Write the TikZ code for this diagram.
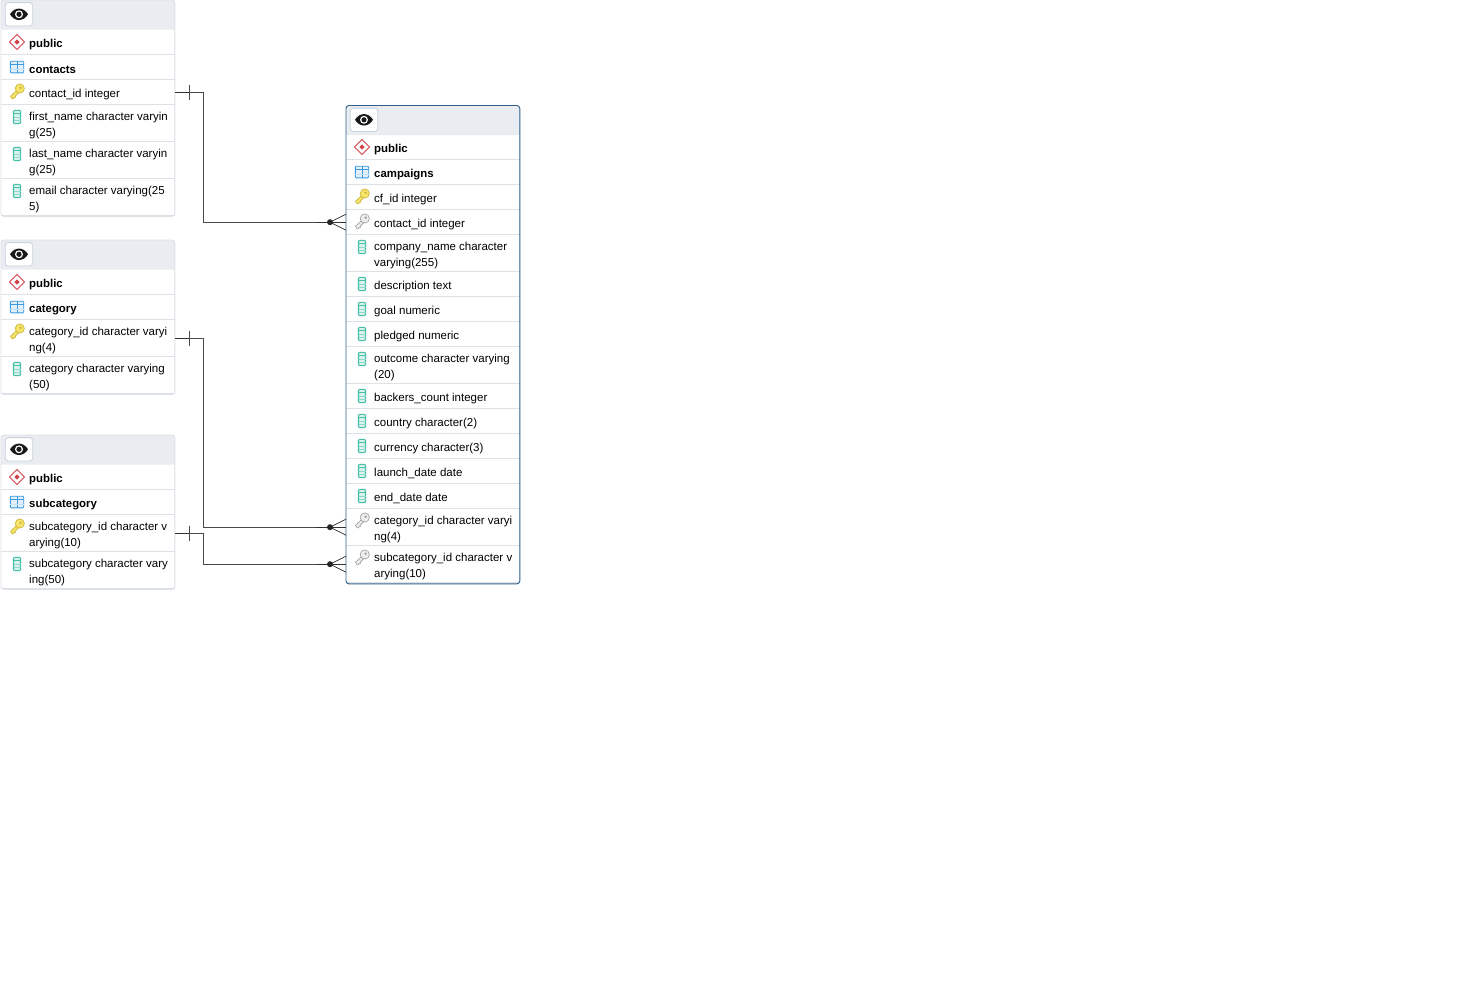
\documentclass[tikz,border=0pt]{standalone}
\usepackage{fontspec}
\setmainfont{Liberation Sans}
\usepackage{tikz}

\definecolor{headgrey}{HTML}{E9EDF2}
\definecolor{rowline}{HTML}{DDE1E8}
\definecolor{btnline}{HTML}{C9D1DE}
\definecolor{frameblue}{HTML}{2F5F8A}
\definecolor{schemared}{HTML}{D2444A}
\definecolor{tableblue}{HTML}{3A9BE0}
\definecolor{tablefill}{HTML}{E3F0FA}
\definecolor{colteal}{HTML}{45BFA8}
\definecolor{colfill}{HTML}{D9F3EC}
\definecolor{keyyellow}{HTML}{F5E36A}
\definecolor{keyedge}{HTML}{C9B236}
\definecolor{fkgrey}{HTML}{EDEDED}
\definecolor{fkedge}{HTML}{9A9A9A}
\definecolor{relgrey}{HTML}{4A4A4A}

\tikzset{
    tablebox/.style={rectangle, anchor=north west, inner sep=0pt, fill=white, minimum width=173.4pt},
    rowbox/.style={rectangle, anchor=north west, inner sep=0pt, minimum width=173.4pt},
    rowtext/.style={anchor=west, inner sep=0pt, align=left, yshift=-0.9pt, font=\fontsize{11.5}{16}\selectfont},
    boldtext/.style={rowtext, yshift=0.2pt, font=\fontsize{11.4}{16}\selectfont\bfseries},
    relline/.style={draw=relgrey, line width=1.3pt},
    relthick/.style={draw=black!80, line width=1.4pt},
    pics/eyeicon/.style={code={
        \draw[btnline, fill=white, rounded corners=3pt, line width=0.8pt] (-13.7,-11.7) rectangle (13.7,11.7);
        \fill[black!90] (-9,0) .. controls (-4.5,-7.6) and (4.5,-7.6) .. (9,0) .. controls (4.5,7.6) and (-4.5,7.6) .. (-9,0) -- cycle;
        \fill[white] (0,0) circle (4);
        \fill[black!90] (0,0) circle (2.6);
    }},
    pics/schemaicon/.style={code={
        \draw[schemared, line width=0.9pt, fill=white] (-7.5,0) -- (0,-7.5) -- (7.5,0) -- (0,7.5) -- cycle;
        \fill[schemared] (-2.6,0) -- (0,-2.6) -- (2.6,0) -- (0,2.6) -- cycle;
    }},
    pics/tableicon/.style={code={
        \fill[tablefill] (-6.7,-5.8) rectangle (6.7,5.8);
        \draw[tableblue, line width=0.9pt, rounded corners=1pt] (-6.7,-5.8) rectangle (6.7,5.8);
        \draw[tableblue, line width=0.8pt] (-6.7,-2.2) -- (6.7,-2.2) (0,-5.8) -- (0,5.8);
        \draw[tableblue!30, line width=0.6pt] (-6.7,1.8) -- (6.7,1.8);
    }},
    pics/colicon/.style={code={
        \draw[colteal, line width=1.1pt, fill=colfill, rounded corners=1pt] (-3.5,-6.6) rectangle (3.5,6.6);
        \draw[colteal, line width=0.9pt] (-3.5,-3.6) -- (3.5,-3.6);
        \draw[colteal!60, line width=0.6pt] (-3.5,0) -- (3.5,0) (-3.5,3.3) -- (3.5,3.3);
    }},
    pics/pkicon/.style={code={
        \draw[keyedge, line width=0.6pt, fill=keyyellow] (-6.5,4.2) -- (0.2,-2) -- (2.2,0.2) -- (-1.4,3.8) -- (-1.4,5.2) -- (-3,5.2) -- (-3.2,6.8) -- (-5,6.8) -- cycle;
        \draw[keyedge, line width=0.6pt, fill=keyyellow] (2.8,-3.5) circle (4.6);
        \fill[keyedge] (3.6,-4.3) circle (1.2);
    }},
    pics/fkicon/.style={code={
        \draw[fkedge, line width=0.6pt, fill=fkgrey] (-6.5,4.2) -- (0.2,-2) -- (2.2,0.2) -- (-1.4,3.8) -- (-1.4,5.2) -- (-3,5.2) -- (-3.2,6.8) -- (-5,6.8) -- cycle;
        \draw[fkedge, line width=0.6pt, fill=fkgrey] (2.8,-3.5) circle (4.6);
        \fill[fkedge] (3.6,-4.3) circle (1.2);
    }},
}

% one table: frame, grey head and the eye button
\newcommand{\dbtable}[4]{
    \node[tablebox, minimum height=#4 pt] (#1) at (#2,#3) {};
    \fill[headgrey] ([yshift=-29.5pt]#1.north west) [rounded corners=3pt] -- (#1.north west) -- (#1.north east) [sharp corners] -- ([yshift=-29.5pt]#1.north east) -- cycle;
    \pic at ([xshift=18pt,yshift=-14.3pt]#1.north west) {eyeicon};
}
% one row: box, bottom rule, icon and text
\newcommand{\dbrow}[7]{
    \node[rowbox, minimum height=#4 pt] (#1) at (#2,#3) {};
    \draw[rowline, line width=0.9pt] (#1.south west) -- (#1.south east);
    \pic at ([xshift=16pt,yshift=-12.5pt]#1.north west) {#5};
    \node[#6] (#1-text) at ([xshift=28pt,yshift=-1.6pt]#1.west) {#7};
}

\begin{document}
\begin{tikzpicture}[x=1pt, y=-1pt]
    \useasboundingbox[fill=white] (0,0) rectangle (1479,1004);

    % contacts
    \dbtable{contacts}{1}{0}{216}
    \foreach \rowid/\rowtop/\rowh/\rowicon/\rowstyle/\rowlabel in {
        contacts-schema/29.5/25/schemaicon/boldtext/{public},
        contacts-name/54.5/25/tableicon/boldtext/{contacts},
        contacts-id/79.5/25/pkicon/rowtext/{contact\_id integer},
        contacts-first/104.5/37/colicon/rowtext/{first\_name character varyin\\g(25)},
        contacts-last/141.5/37/colicon/rowtext/{last\_name character varyin\\g(25)},
        contacts-email/178.5/37/colicon/rowtext/{email character varying(25\\5)}}
        \dbrow{\rowid}{1}{\rowtop}{\rowh}{\rowicon}{\rowstyle}{\rowlabel};

    % category
    \dbtable{category}{1}{240}{154}
    \foreach \rowid/\rowtop/\rowh/\rowicon/\rowstyle/\rowlabel in {
        category-schema/269.5/25/schemaicon/boldtext/{public},
        category-name/294.5/25/tableicon/boldtext/{category},
        category-id/319.5/37/pkicon/rowtext/{category\_id character varyi\\ng(4)},
        category-col/356.5/37/colicon/rowtext/{category character varying\\(50)}}
        \dbrow{\rowid}{1}{\rowtop}{\rowh}{\rowicon}{\rowstyle}{\rowlabel};

    % subcategory
    \dbtable{subcategory}{1}{435}{154}
    \foreach \rowid/\rowtop/\rowh/\rowicon/\rowstyle/\rowlabel in {
        subcategory-schema/464.5/25/schemaicon/boldtext/{public},
        subcategory-name/489.5/25/tableicon/boldtext/{subcategory},
        subcategory-id/514.5/37/pkicon/rowtext/{subcategory\_id character v\\arying(10)},
        subcategory-col/551.5/37/colicon/rowtext/{subcategory character vary\\ing(50)}}
        \dbrow{\rowid}{1}{\rowtop}{\rowh}{\rowicon}{\rowstyle}{\rowlabel};

    % campaigns
    \dbtable{campaigns}{346}{105.5}{478}
    \foreach \rowid/\rowtop/\rowh/\rowicon/\rowstyle/\rowlabel in {
        campaigns-schema/134.5/25/schemaicon/boldtext/{public},
        campaigns-name/159.5/25/tableicon/boldtext/{campaigns},
        campaigns-id/184.5/25/pkicon/rowtext/{cf\_id integer},
        campaigns-contact/209.5/25/fkicon/rowtext/{contact\_id integer},
        campaigns-company/234.5/37/colicon/rowtext/{company\_name character\\varying(255)},
        campaigns-desc/271.5/25/colicon/rowtext/{description text},
        campaigns-goal/296.5/25/colicon/rowtext/{goal numeric},
        campaigns-pledged/321.5/25/colicon/rowtext/{pledged numeric},
        campaigns-outcome/346.5/37/colicon/rowtext/{outcome character varying\\(20)},
        campaigns-backers/383.5/25/colicon/rowtext/{backers\_count integer},
        campaigns-country/408.5/25/colicon/rowtext/{country character(2)},
        campaigns-currency/433.5/25/colicon/rowtext/{currency character(3)},
        campaigns-launch/458.5/25/colicon/rowtext/{launch\_date date},
        campaigns-end/483.5/25/colicon/rowtext/{end\_date date},
        campaigns-category/508.5/37/fkicon/rowtext/{category\_id character varyi\\ng(4)},
        campaigns-subcategory/545.5/37/fkicon/rowtext/{subcategory\_id character v\\arying(10)}}
        \dbrow{\rowid}{346}{\rowtop}{\rowh}{\rowicon}{\rowstyle}{\rowlabel};

    \foreach \tablename/\edgecolor in {contacts/rowline, category/rowline, subcategory/rowline, campaigns/frameblue}
        \draw[\edgecolor, line width=0.9pt, rounded corners=3pt] (\tablename.north west) rectangle (\tablename.south east);

    % relations
    \foreach \pkrow/\fkrow in {contacts-id/campaigns-contact, category-id/campaigns-category, subcategory-id/campaigns-subcategory} {
        \draw[relline] (\pkrow.east) -- ++(29,0) |- (\fkrow.west);
        \draw[relthick] (\pkrow.east) -- ++(14.5,0);
        \draw[relline] ([xshift=14.5pt,yshift=7.5pt]\pkrow.east) -- ([xshift=14.5pt,yshift=-7.5pt]\pkrow.east);
        \draw[relthick] ([xshift=-30pt]\fkrow.west) -- (\fkrow.west);
        \fill[black!85] ([xshift=-16pt]\fkrow.west) circle (3);
        \draw[black!85, line width=0.7pt] ([yshift=8pt]\fkrow.west) -- ([xshift=-16pt]\fkrow.west) -- ([yshift=-8pt]\fkrow.west);
    }
\end{tikzpicture}
\end{document}
